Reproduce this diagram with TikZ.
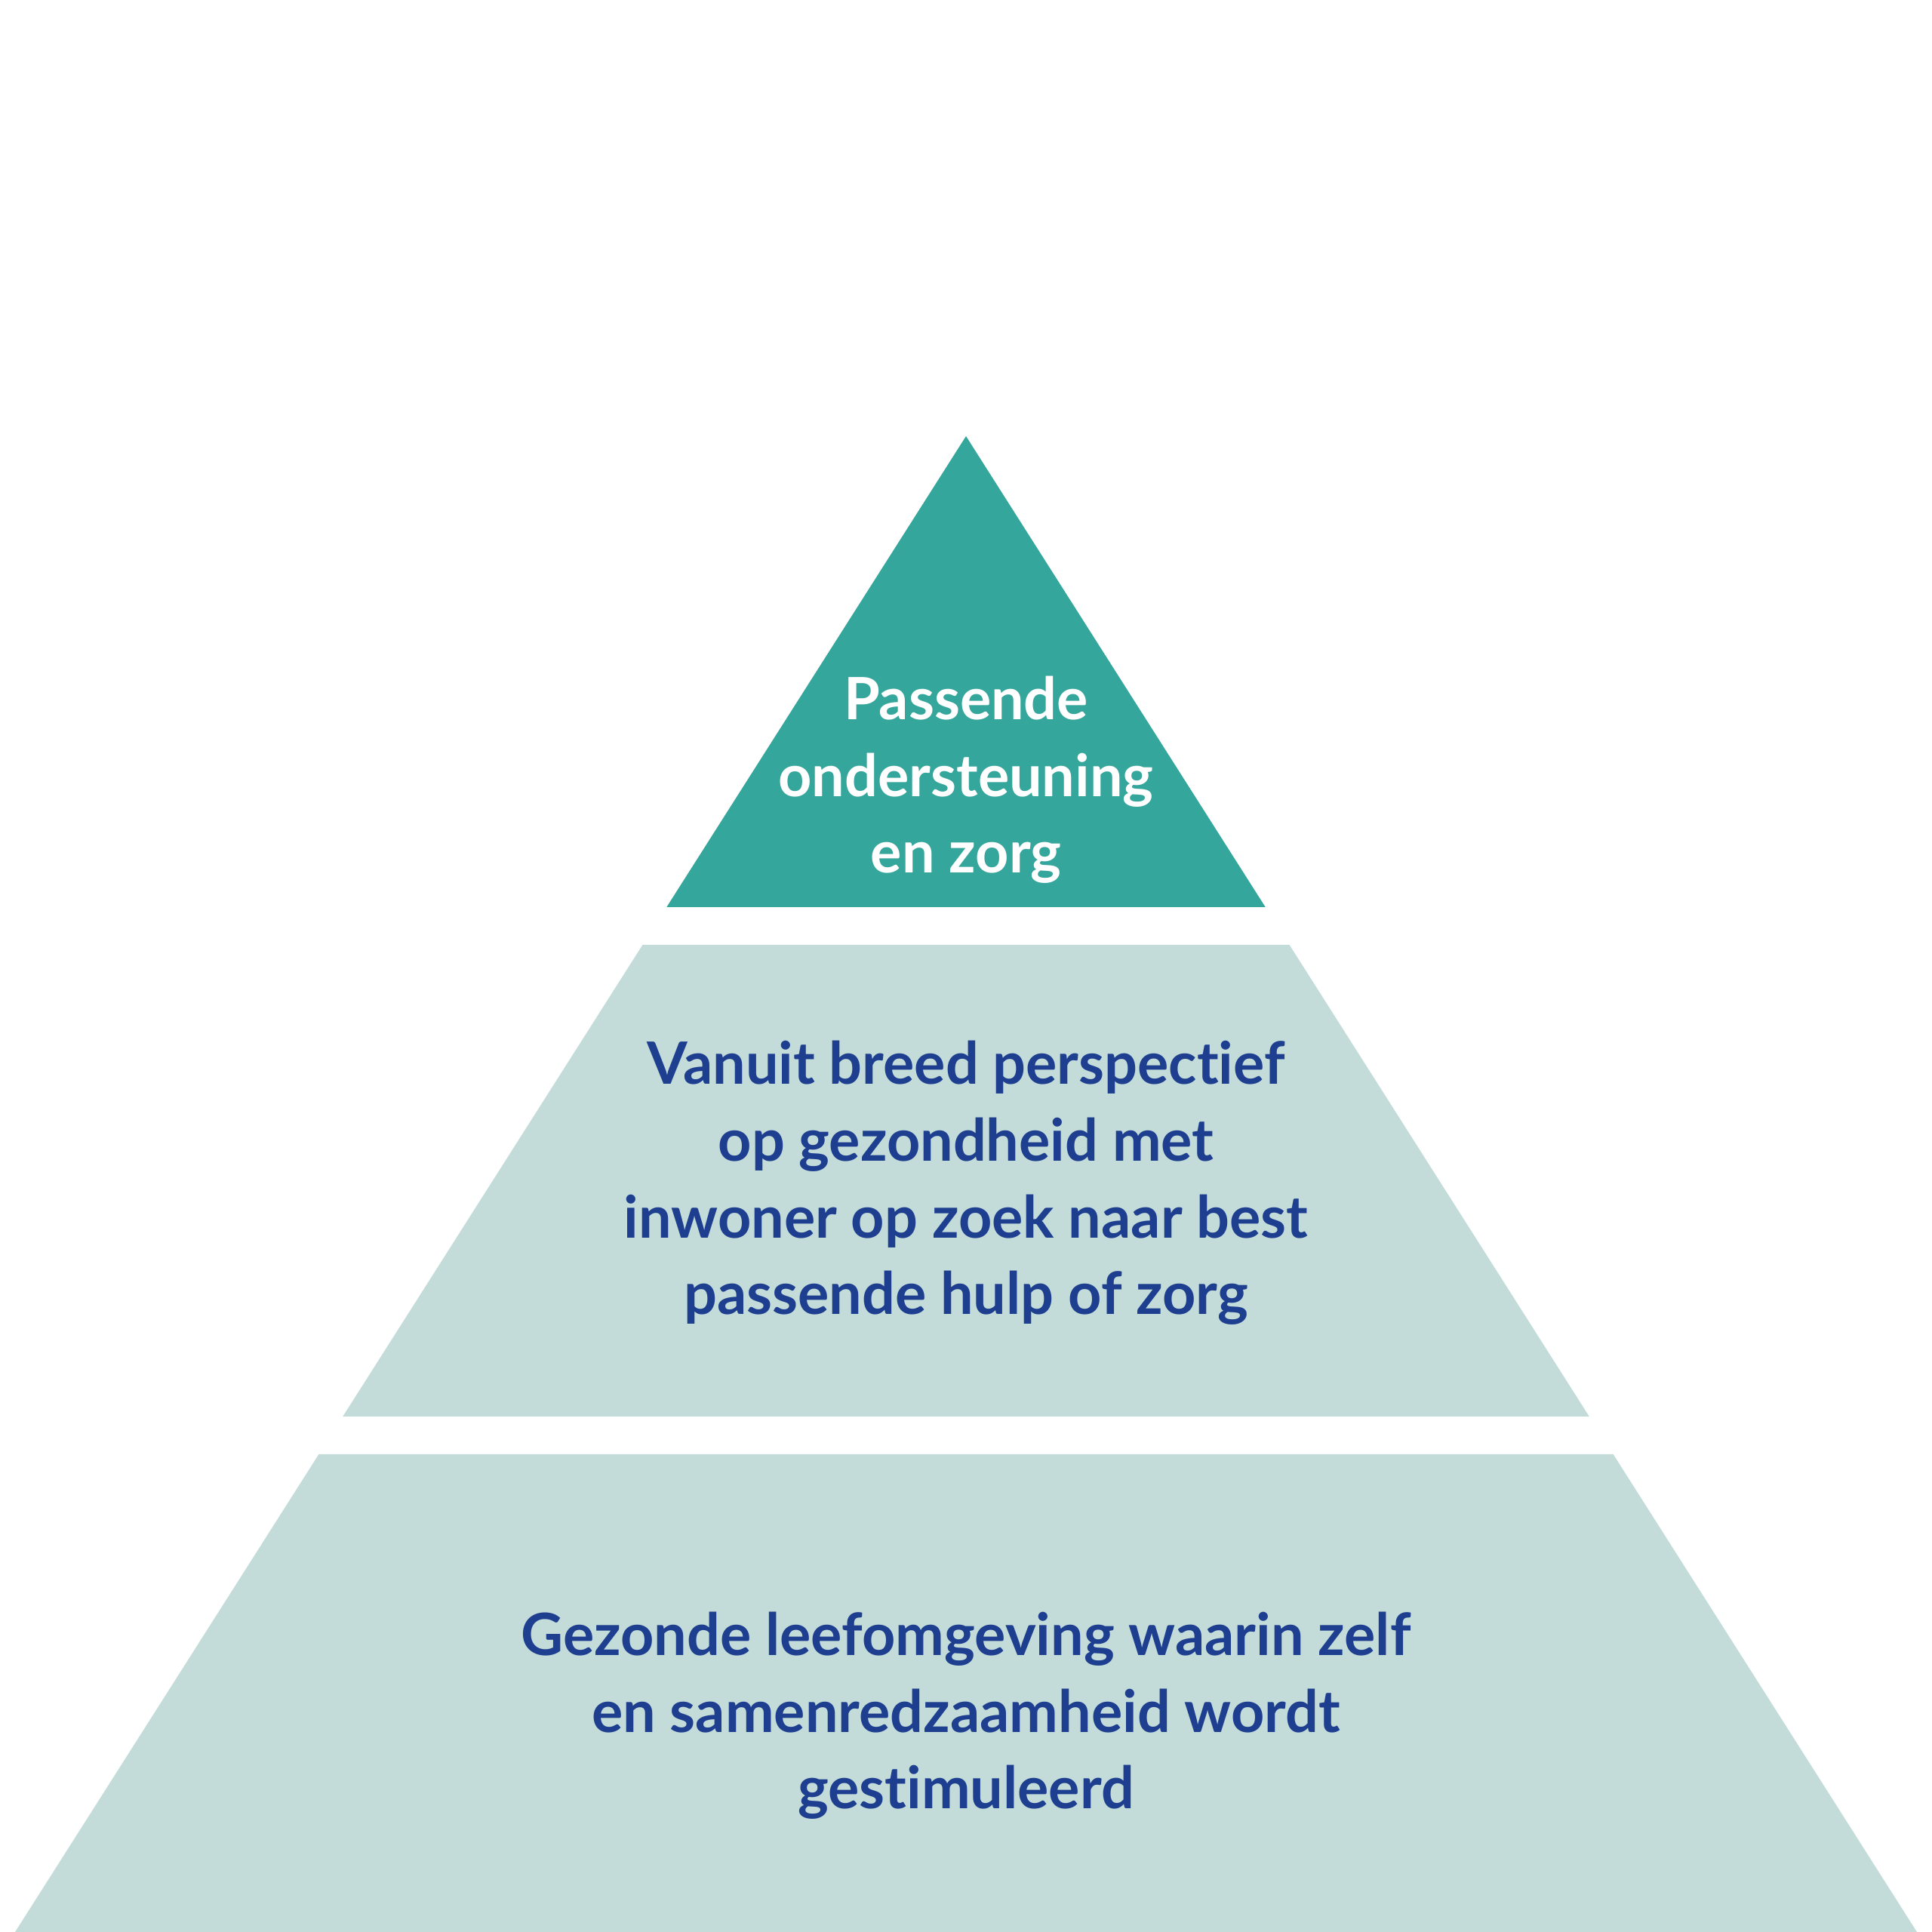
\documentclass[tikz,border=0pt]{standalone}
\usepackage{fontspec}
\setmainfont{Lato}[Ligatures=NoCommon]
\usepackage{xcolor}
\usepackage{tikz}
\usetikzlibrary{positioning}

\definecolor{pyrteal}{HTML}{35A69C}
\definecolor{pyrlight}{HTML}{C3DCD9}
\definecolor{pyrblue}{HTML}{1E3F8F}

\begin{document}
\begin{tikzpicture}[
            layer/.style={fill=pyrlight},
            toplayer/.style={fill=pyrteal},
            label/.style={align=center, anchor=base, font=\fontsize{22}{29}\selectfont\bfseries, text=pyrblue, inner sep=0pt},
            toplabel/.style={label, text=white}
        ]

        \useasboundingbox (0,0) rectangle (25.6,25.6);

        % Layers (manual layout to match figure)
        \fill[toplayer] (12.8,19.82) -- (16.767,13.58) -- (8.833,13.58) -- cycle;
        \fill[layer] (8.515,13.08) -- (17.085,13.08) -- (21.058,6.83) -- (4.542,6.83) -- cycle;
        \fill[layer] (4.224,6.33) -- (21.376,6.33) -- (25.4,0) -- (0.2,0) -- cycle;

        % Labels (base = last line)
        \node[toplabel] (top) at (12.8, 14.03) {Passende\\ondersteuning\\en zorg};
        \node[label] (mid) at (12.8, 8.18) {Vanuit breed perspectief\\op gezondheid met\\inwoner op zoek naar best\\passende hulp of zorg};
        \node[label] (base) at (12.8, 1.63) {Gezonde leefomgeving waarin zelf\\en samenredzaamheid wordt\\gestimuleerd};

    \end{tikzpicture}
\end{document}
